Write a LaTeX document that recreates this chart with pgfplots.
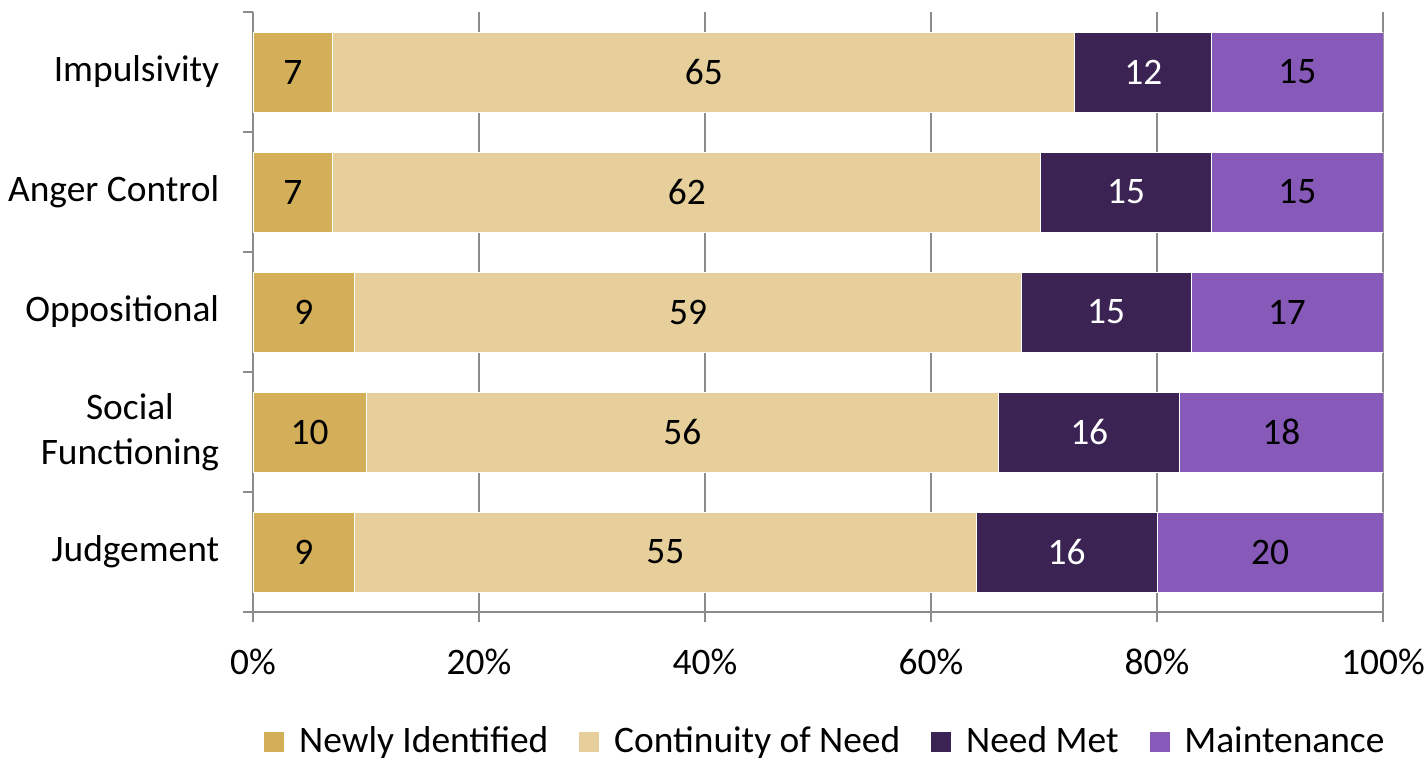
\documentclass[border=0pt]{standalone}
\usepackage{pgfplots}
\usepackage{pgfplotstable}
\pgfplotsset{compat=1.18}
\usepackage{fontspec}
\setmainfont{Carlito}
\definecolor{cNew}{HTML}{D4AF5A}
\definecolor{cCont}{HTML}{E6CF9B}
\definecolor{cMet}{HTML}{3B2353}
\definecolor{cMaint}{HTML}{8759B9}
\definecolor{cGrid}{HTML}{8C8C8C}

% y: 0 = Judgement ... 4 = Impulsivity; x = share of row total (%)
\pgfplotstableread{
y x lab
0 9 9
1 10 10
2 9 9
3 7.0707 7
4 7.0707 7
}\tNew
\pgfplotstableread{
y x lab
0 55 55
1 56 56
2 59 59
3 62.6263 62
4 65.6566 65
}\tCont
\pgfplotstableread{
y x lab
0 16 16
1 16 16
2 15 15
3 15.1515 15
4 12.1212 12
}\tMet
\pgfplotstableread{
y x lab
0 20 20
1 18 18
2 17 17
3 15.1515 15
4 15.1515 15
}\tMaint

\newcommand{\cf}{\fontsize{18.7}{22.4}\selectfont}
\begin{document}
\cf
\begin{tikzpicture}
\path[use as bounding box] (-126.5pt,-74.5pt) rectangle (587pt,306pt);
\begin{axis}[
  at={(0pt,0pt)}, anchor=south west,
  scale only axis,
  width=565pt, height=300pt,
  xbar stacked,
  bar width=40pt,
  xmin=0, xmax=100,
  ymin=-0.5, ymax=4.5,
  axis x line*=bottom,
  axis y line*=left,
  axis line style={cGrid, line width=0.8pt},
  xtick={0,20,40,60,80,100},
  xticklabels={0\%,20\%,40\%,60\%,80\%,100\%},
  xmajorgrids=true,
  grid style={cGrid, line width=0.8pt},
  tick align=outside,
  major tick length=5pt,
  minor tick length=5pt,
  tick style={cGrid, line width=0.8pt},
  major y tick style={draw=none},
  ytick={0,1,2,3,4},
  yticklabels={Judgement,{Social\\Functioning},Oppositional,Anger Control,Impulsivity},
  minor ytick={-0.5,0.5,1.5,2.5,3.5,4.5},
  yticklabel style={align=center, font=\cf, xshift=-5.5pt},
  xticklabel style={font=\cf, yshift=-7pt},
  point meta=explicit symbolic,
  nodes near coords,
  every node near coord/.append style={anchor=center, font=\cf},
  area legend,
  legend image code/.code={\fill[#1] (0pt,-5.25pt) rectangle (10.5pt,5.25pt);},
  legend style={at={(0.507,-0.183)}, anchor=north, draw=none, fill=none,
     legend columns=4, inner sep=0pt,
     font=\cf,
     /tikz/every even column/.append style={column sep=13pt},
     /tikz/every odd column/.append style={column sep=5pt}},
]
\addplot[fill=cNew, draw=white, line width=0.4pt] table[x=x, y=y, meta=lab] \tNew;
\addplot[fill=cCont, draw=white, line width=0.4pt] table[x=x, y=y, meta=lab] \tCont;
\addplot[fill=cMet, draw=white, line width=0.4pt, every node near coord/.append style={text=white}] table[x=x, y=y, meta=lab] \tMet;
\addplot[fill=cMaint, draw=white, line width=0.4pt] table[x=x, y=y, meta=lab] \tMaint;
\legend{Newly Identified, Continuity of Need, Need Met, Maintenance}
\end{axis}
\end{tikzpicture}
\end{document}
